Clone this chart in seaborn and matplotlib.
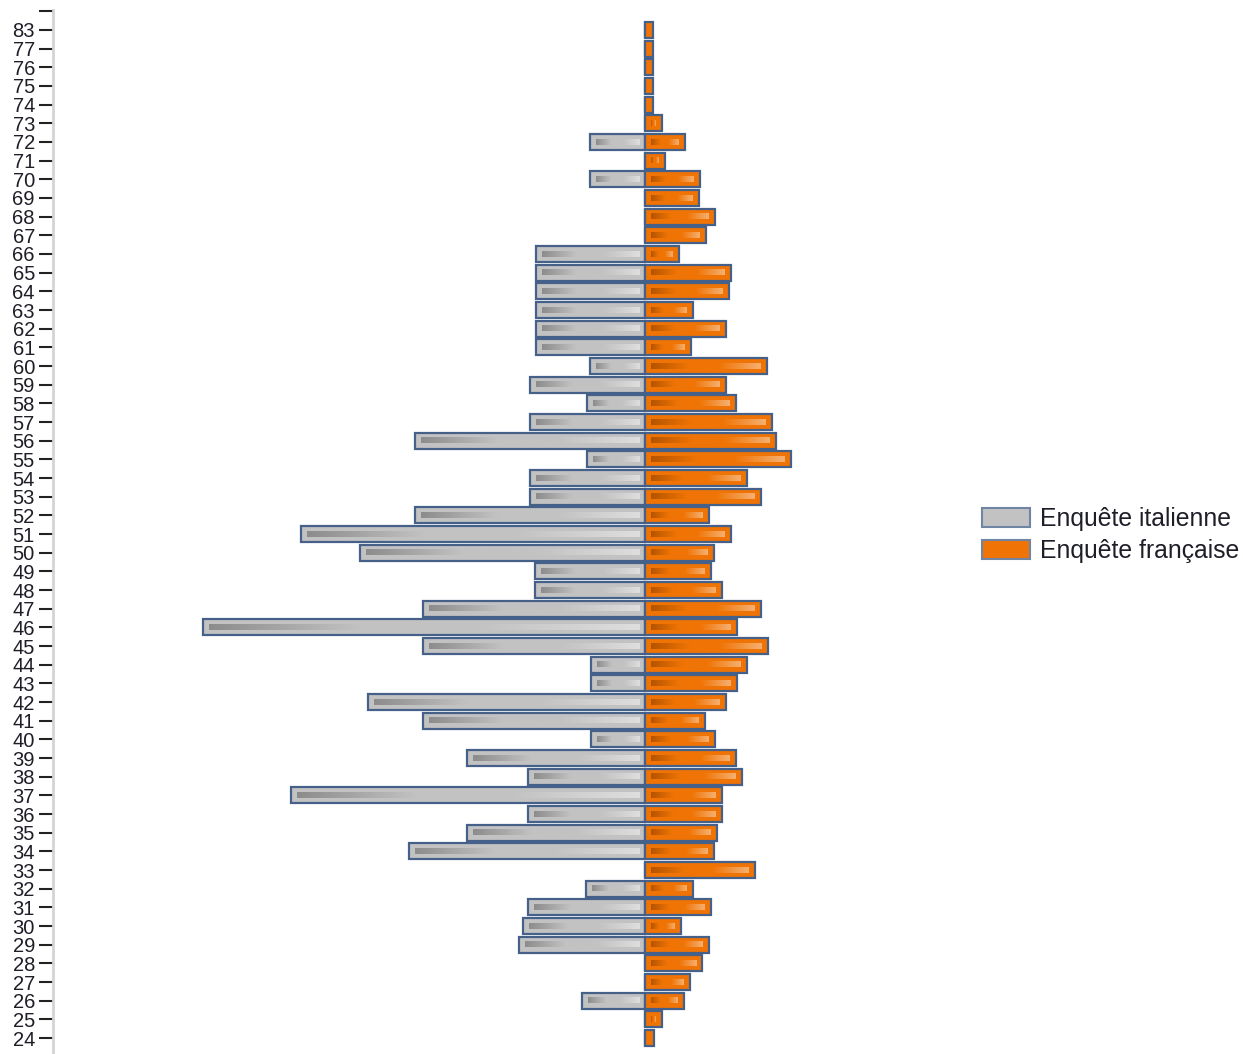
import numpy as np
import pandas as pd
import matplotlib
matplotlib.use("Agg")
import matplotlib.pyplot as plt
import seaborn as sns
from matplotlib.patches import Rectangle
from matplotlib.colors import to_rgb

# ---- data (ages top to bottom) ----
ages = [83, 77, 76, 75, 74, 73, 72, 71, 70, 69, 68, 67, 66, 65, 64, 63, 62, 61,
        60, 59, 58, 57, 56, 55, 54, 53, 52, 51, 50, 49, 48, 47, 46, 45, 44, 43,
        42, 41, 40, 39, 38, 37, 36, 35, 34, 33, 32, 31, 30, 29, 28, 27, 26, 25, 24]
italienne = [0, 0, 0, 0, 0, 0, 1.01, 0, 1.01, 0, 0, 0, 1.97, 1.97, 1.97, 1.97, 1.97, 1.97,
             1.01, 2.08, 1.05, 2.08, 4.16, 1.05, 2.08, 2.08, 4.16, 6.22, 5.15, 1.99, 1.99, 4.01,
             7.99, 4.01, 0.99, 0.99, 5.01, 4.01, 0.99, 3.22, 2.13, 6.40, 2.13, 3.22, 4.27, 0,
             1.08, 2.13, 2.22, 2.28, 0, 0, 1.14, 0, 0]
francaise = [0.14, 0.14, 0.14, 0.14, 0.14, 0.29, 0.71, 0.36, 0.99, 0.96, 1.25, 1.10, 0.61,
             1.54, 1.50, 0.85, 1.46, 0.83, 2.19, 1.45, 1.63, 2.28, 2.35, 2.62, 1.84, 2.08,
             1.14, 1.54, 1.23, 1.19, 1.39, 2.08, 1.65, 2.22, 1.84, 1.65, 1.45, 1.08, 1.25,
             1.63, 1.74, 1.39, 1.39, 1.30, 1.23, 1.97, 0.85, 1.19, 0.65, 1.14, 1.03, 0.80,
             0.69, 0.29, 0.16]
series_names = ["Enquête italienne", "Enquête française"]

# ---- styles ----
GRAY = "#c2c2c2"
ORANGE = "#ef7405"
EDGE = "#45618a"
TEXT = "#1e1e28"

df = pd.DataFrame({
    "age": [str(a) for a in ages] * 2,
    "value": [-v for v in italienne] + list(francaise),
    "survey": [series_names[0]] * len(ages) + [series_names[1]] * len(ages),
})

sns.set_style("white")
plt.rcParams["font.family"] = ["Liberation Sans", "DejaVu Sans"]

fig = plt.figure(figsize=(12.43, 10.54), dpi=100)
ax = fig.add_axes([53 / 1243, 1 / 1054, 897 / 1243, 1043 / 1054])

sns.barplot(data=df, x="value", y="age", hue="survey", order=[str(a) for a in ages],
            hue_order=series_names, palette=[GRAY, ORANGE], dodge=False, orient="h",
            width=0.85, edgecolor=EDGE, linewidth=1.6, saturation=1, ax=ax, legend=False)

xlim = (-10.7, 5.5)
ylim = (54.8, -1.07)
ax.set_xlim(*xlim)
ax.set_ylim(*ylim)

# inner gradient stripes (dark left -> light right)
px_per_unit = 897 / (xlim[1] - xlim[0])
inset = 6 / px_per_unit

def grad(base, dark, light, n=256):
    t = np.linspace(0, 1, n)
    b, d, l = map(np.array, (to_rgb(base), to_rgb(dark), to_rgb(light)))
    out = np.empty((1, n, 3))
    for i, tt in enumerate(t):
        if tt < 0.35:
            f = tt / 0.35
            out[0, i] = d * (1 - f) + b * f
        elif tt > 0.62:
            f = (tt - 0.62) / 0.38
            out[0, i] = b * (1 - f) + l * f
        else:
            out[0, i] = b
    return out

g_gray = grad(GRAY, "#8c8c8c", "#dedede")
g_orange = grad(ORANGE, "#b55400", "#f6b070")

for p in list(ax.patches):
    w = p.get_width()
    if abs(w) * px_per_unit < 14:
        continue
    x0 = min(p.get_x(), p.get_x() + w)
    x1 = max(p.get_x(), p.get_x() + w)
    yc = p.get_y() + p.get_height() / 2
    sh = p.get_height() * 0.32
    img = g_gray if w < 0 else g_orange
    ax.imshow(img, extent=(x0 + inset, x1 - inset, yc + sh / 2, yc - sh / 2),
              aspect="auto", interpolation="bilinear", zorder=3)

ax.set_xlim(*xlim)
ax.set_ylim(*ylim)

# axes styling
for s in ["top", "right", "bottom"]:
    ax.spines[s].set_visible(False)
ax.spines["left"].set_color("#d4d4d4")
ax.spines["left"].set_linewidth(2)
ax.set_xticks([])
ax.set_xlabel("")
ax.set_ylabel("")
ax.set_yticks(range(-1, len(ages)))
ax.set_yticklabels([""] + [str(a) for a in ages], fontsize=14.5, color=TEXT)
ax.tick_params(axis="y", length=10, width=1.5, color="#222222", pad=3, left=True)

handles = [Rectangle((0, 0), 1, 1, facecolor=GRAY, edgecolor="#7084a4", linewidth=1.5),
           Rectangle((0, 0), 1, 1, facecolor=ORANGE, edgecolor="#7084a4", linewidth=1.5)]
leg = fig.legend(handles, series_names, loc="center left",
                 bbox_to_anchor=(982 / 1243, 1 - 535 / 1054), frameon=False,
                 fontsize=17.8, handlelength=1.95, handleheight=0.8, handletextpad=0.4,
                 labelspacing=0.3, borderpad=0, borderaxespad=0)
for t in leg.get_texts():
    t.set_color(TEXT)

fig.savefig("out.png", dpi=100)
